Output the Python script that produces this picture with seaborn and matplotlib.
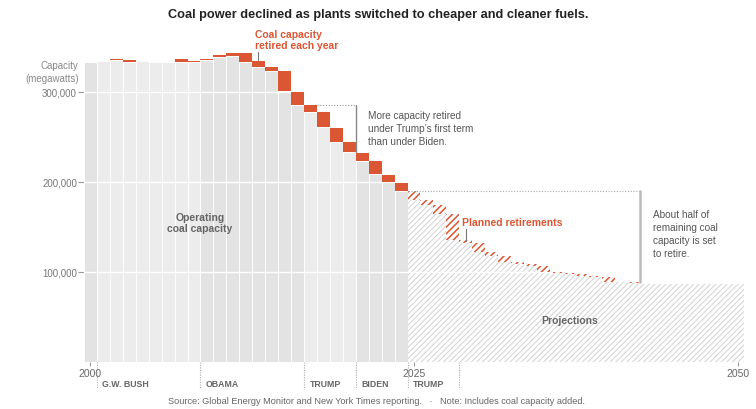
import matplotlib
matplotlib.use("Agg")
import matplotlib.pyplot as plt
import matplotlib.transforms as mtransforms
import seaborn as sns
import pandas as pd

# ---------------- data ----------------
hist_years = list(range(2000, 2025))
hist_operating = [333700, 334500, 335200, 333700, 333900, 333400, 333500, 333000, 333300,
                  335200, 338900, 340000, 333300, 328100, 323700, 301400, 285900, 277400,
                  260800, 244100, 233000, 223700, 208900, 199600, 190300]
hist_retired = [0, 300, 1500, 1900, 500, 300, 200, 3300, 1100,
                1500, 2500, 3000, 10000, 6900, 4400, 22300, 14400, 8500,
                16600, 15900, 11100, 8500, 14800, 8500, 8200]
hist_term = ["A", "B", "B", "B", "B", "B", "B", "B", "B",
             "A", "A", "A", "A", "A", "A", "A", "A",
             "B", "B", "B", "B", "A", "A", "A", "A"]

proj_years = list(range(2025, 2051))
proj_operating = [180300, 174400, 164400, 135600, 132200, 121900, 117400, 110800, 108900,
                  106700, 100300, 98600, 97500, 95600, 94100, 89200, 89000, 87800,
                  87200, 87200, 87200, 87200, 87200, 87200, 87200, 87200]
proj_retired = [10000, 5900, 10000, 28800, 3400, 10300, 4500, 6600, 1900,
                2200, 6400, 1700, 1100, 1900, 1500, 4900, 200, 1200,
                0, 0, 0, 0, 0, 0, 0, 0]

term_bounds = [2000.5, 2008.5, 2016.5, 2020.5, 2024.5, 2028.5]
term_labels = ["G.W. BUSH", "OBAMA", "TRUMP", "BIDEN", "TRUMP"]
y_ticks = [100000, 200000, 300000]
x_ticks = [2000, 2025, 2050]

title = "Coal power declined as plants switched to cheaper and cleaner fuels."
source = "Source: Global Energy Monitor and New York Times reporting.   \u00b7   Note: Includes coal capacity added."

# ---------------- style ----------------
sns.set_theme(style="white")
plt.rcParams["font.family"] = ["Liberation Sans", "DejaVu Sans"]
plt.rcParams["hatch.linewidth"] = 0.7

RED = "#db5633"
shade = {"A": "#e3e3e3", "B": "#ececec"}

fig = plt.figure(figsize=(7.56, 4.10), dpi=100)
ax = fig.add_axes([84 / 756, 47 / 410, 660 / 756, 333 / 410])

df_hist = pd.DataFrame({"year": hist_years, "operating": hist_operating,
                        "retired": hist_retired, "term": hist_term})

sns.barplot(data=df_hist, x="year", y="operating", hue="term", palette=shade,
            native_scale=True, width=1, dodge=False, legend=False, saturation=1,
            edgecolor="white", linewidth=0.6, ax=ax, zorder=1)

# white gridlines over the grey bars
for yv in y_ticks:
    ax.axhline(yv, color="white", lw=1.0, zorder=2)

# retired (red) on top of operating
ax.bar(hist_years, hist_retired, bottom=hist_operating, width=1, color=RED,
       edgecolor="none", linewidth=0, zorder=3)

# projections (hatched)
ax.bar(proj_years, proj_operating, width=1, facecolor="white", edgecolor="#d2d2d2",
       hatch="//////", linewidth=0, zorder=1)
red_h = ax.bar(proj_years, proj_retired, bottom=proj_operating, width=1, facecolor="white",
               edgecolor=RED, hatch="/////", linewidth=0, zorder=3)
for p in red_h:
    try:
        p.set_hatch_linewidth(1.1)
    except Exception:
        pass

ax.set_xlim(1999.5, 2050.5)
ax.set_ylim(0, 370000)
for s in ax.spines.values():
    s.set_visible(False)
ax.set_xlabel("")
ax.set_ylabel("")

ax.set_yticks(y_ticks)
ax.set_yticklabels([f"{v:,}" for v in y_ticks])
ax.set_xticks(x_ticks)
ax.set_xticklabels([str(v) for v in x_ticks])
ax.tick_params(axis="y", left=True, length=4, width=0.8, color="#999999",
               labelsize=7, labelcolor="#777777", pad=1)
ax.tick_params(axis="x", bottom=True, length=3, width=0.8, color="#999999",
               labelsize=7.5, labelcolor="#666666", pad=1.5)

# bracket: Trump first term
ax.plot([2017.5, 2020.5], [285900, 285900], ls=(0, (1, 1.5)), color="#999999", lw=0.8, zorder=5)
ax.plot([2020.5, 2020.5], [285900, 233000], color="#888888", lw=1.0, zorder=5)
# bracket: projections
ax.plot([2024.5, 2042.5], [190300, 190300], ls=(0, (1, 1.5)), color="#aaaaaa", lw=0.8, zorder=5)
ax.plot([2042.5, 2042.5], [190300, 88600], color="#bbbbbb", lw=1.8, zorder=5)

# presidency separators and labels below axis
trans = mtransforms.blended_transform_factory(ax.transData, ax.transAxes)
for xb in term_bounds:
    ax.plot([xb, xb], [0, -0.081], transform=trans, clip_on=False,
            ls=(0, (1, 1.2)), color="#b0b0b0", lw=0.8)
for xb, lab in zip(term_bounds[:-1], term_labels):
    ax.text(xb + 0.42, -0.064, lab, transform=trans, ha="left", va="center",
            fontsize=6.3, fontweight="bold", color="#666666")

# annotations
ax.text(2012.71, 358100, "Coal capacity\nretired each year", ha="left", va="center",
        fontsize=7.5, fontweight="bold", color=RED, linespacing=1.15)
ax.plot([2012.97, 2012.97], [344800, 335500], color="#777777", lw=0.8, zorder=6)

ax.text(2021.42, 259700, "More capacity retired\nunder Trump\u2019s first term\nthan under Biden.",
        ha="left", va="center", fontsize=7.2, color="#555555", linespacing=1.35)

ax.text(2028.73, 155200, "Planned retirements", ha="left", va="center",
        fontsize=7.5, fontweight="bold", color=RED)
ax.plot([2028.99, 2028.99], [147800, 134500], color="#777777", lw=0.8, zorder=6)

ax.text(2043.5, 142600, "About half of\nremaining coal\ncapacity is set\nto retire.",
        ha="left", va="center", fontsize=7.2, color="#555555", linespacing=1.35)

ax.text(2008.46, 154800, "Operating\ncoal capacity", ha="center", va="center",
        fontsize=7.5, fontweight="bold", color="#666666", linespacing=1.2, zorder=6)
ax.text(2037.06, 46700, "Projections", ha="center", va="center",
        fontsize=7.5, fontweight="bold", color="#666666", zorder=6)

# figure texts
fig.text(378 / 756, 1 - 15 / 410, title, ha="center", va="center",
         fontsize=9.2, fontweight="bold", color="#222222")
fig.text(78.5 / 756, 1 - 65.7 / 410, "Capacity", ha="right", va="center",
         fontsize=7, color="#888888")
fig.text(78.5 / 756, 1 - 79 / 410, "(megawatts)", ha="right", va="center",
         fontsize=7, color="#888888")
fig.text(376 / 756, 1 - 401.7 / 410, source, ha="center", va="center",
         fontsize=6.6, color="#666666")

fig.savefig("out.png", dpi=100, facecolor="white")
